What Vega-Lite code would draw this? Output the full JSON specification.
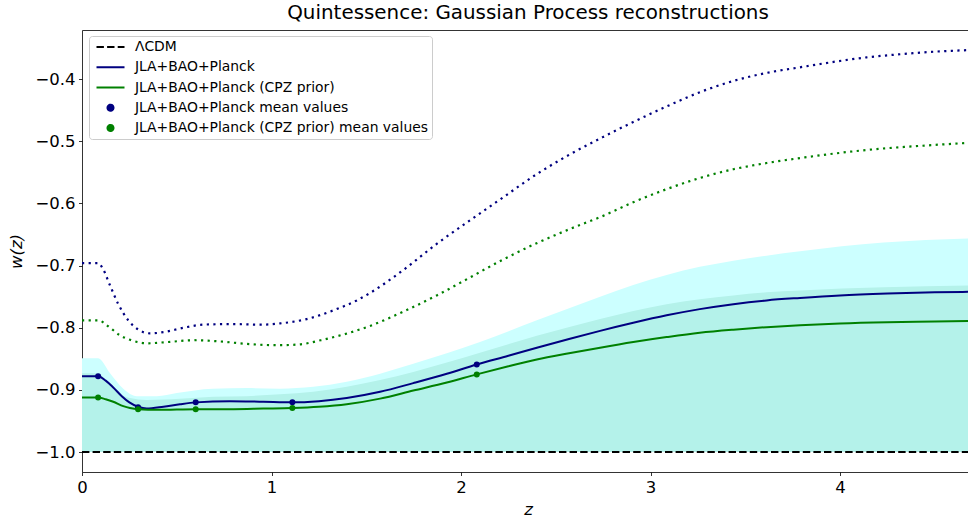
{
  "$schema": "https://vega.github.io/schema/vega-lite/v6.json",
  "width": 892,
  "height": 442,
  "autosize": {"type": "none"},
  "padding": {"left": 82, "top": 30, "right": 0, "bottom": 47},
  "background": "white",
  "title": {"text": "Quintessence: Gaussian Process reconstructions", "fontSize": 19.9, "font": "DejaVu Sans", "fontWeight": "normal", "color": "black", "anchor": "middle", "offset": 7},
  "config": {
    "font": "DejaVu Sans",
    "view": {"stroke": null},
    "axis": {"domainColor": "black", "domainWidth": 0.8, "tickColor": "black", "tickWidth": 0.8, "tickSize": 3.5, "labelPadding": 3.5, "labelFontSize": 16.5, "labelColor": "black", "labelFont": "DejaVu Sans", "labelFlush": false, "labelOverlap": false, "titleFont": "DejaVu Sans", "titleFontSize": 16.5, "titleFontStyle": "italic", "titleFontWeight": "normal", "titleColor": "black", "grid": false}
  },
  "datasets": {
    "bands": [
      {"b": "cyan", "z": 0, "w": -0.849}, {"b": "cyan", "z": 0.085, "w": -0.849}, {"b": "cyan", "z": 0.148, "w": -0.873}, {"b": "cyan", "z": 0.218, "w": -0.898}, {"b": "cyan", "z": 0.289, "w": -0.91}, {"b": "cyan", "z": 0.394, "w": -0.91}, {"b": "cyan", "z": 0.5, "w": -0.905}, {"b": "cyan", "z": 0.69, "w": -0.898}, {"b": "cyan", "z": 0.87, "w": -0.897}, {"b": "cyan", "z": 1.045, "w": -0.898}, {"b": "cyan", "z": 1.22, "w": -0.895}, {"b": "cyan", "z": 1.397, "w": -0.887}, {"b": "cyan", "z": 1.573, "w": -0.874}, {"b": "cyan", "z": 1.748, "w": -0.858}, {"b": "cyan", "z": 1.925, "w": -0.841}, {"b": "cyan", "z": 2.1, "w": -0.823}, {"b": "cyan", "z": 2.4, "w": -0.788}, {"b": "cyan", "z": 2.734, "w": -0.75}, {"b": "cyan", "z": 2.909, "w": -0.731}, {"b": "cyan", "z": 3.085, "w": -0.715}, {"b": "cyan", "z": 3.26, "w": -0.702}, {"b": "cyan", "z": 3.437, "w": -0.692}, {"b": "cyan", "z": 3.613, "w": -0.684}, {"b": "cyan", "z": 3.789, "w": -0.677}, {"b": "cyan", "z": 4.23, "w": -0.663}, {"b": "cyan", "z": 4.71, "w": -0.656},
      {"b": "teal", "z": 0, "w": -0.873}, {"b": "teal", "z": 0.085, "w": -0.873}, {"b": "teal", "z": 0.148, "w": -0.893}, {"b": "teal", "z": 0.2, "w": -0.906}, {"b": "teal", "z": 0.253, "w": -0.913}, {"b": "teal", "z": 0.341, "w": -0.916}, {"b": "teal", "z": 0.517, "w": -0.914}, {"b": "teal", "z": 0.693, "w": -0.911}, {"b": "teal", "z": 0.869, "w": -0.91}, {"b": "teal", "z": 1.045, "w": -0.907}, {"b": "teal", "z": 1.22, "w": -0.903}, {"b": "teal", "z": 1.397, "w": -0.895}, {"b": "teal", "z": 1.573, "w": -0.884}, {"b": "teal", "z": 1.748, "w": -0.871}, {"b": "teal", "z": 1.925, "w": -0.856}, {"b": "teal", "z": 2.1, "w": -0.84}, {"b": "teal", "z": 2.4, "w": -0.813}, {"b": "teal", "z": 2.734, "w": -0.786}, {"b": "teal", "z": 2.909, "w": -0.773}, {"b": "teal", "z": 3.085, "w": -0.762}, {"b": "teal", "z": 3.26, "w": -0.754}, {"b": "teal", "z": 3.437, "w": -0.748}, {"b": "teal", "z": 3.613, "w": -0.743}, {"b": "teal", "z": 3.789, "w": -0.74}, {"b": "teal", "z": 4.23, "w": -0.735}, {"b": "teal", "z": 4.71, "w": -0.732}
    ],
    "lcdm": [
      {"s": "ΛCDM", "z": 0, "w": -1}, {"s": "ΛCDM", "z": 4.71, "w": -1}
    ],
    "upper": [
      {"s": "blue", "z": 0, "w": -0.696}, {"s": "blue", "z": 0.085, "w": -0.696}, {"s": "blue", "z": 0.11, "w": -0.705}, {"s": "blue", "z": 0.148, "w": -0.732}, {"s": "blue", "z": 0.19, "w": -0.761}, {"s": "blue", "z": 0.244, "w": -0.788}, {"s": "blue", "z": 0.297, "w": -0.803}, {"s": "blue", "z": 0.359, "w": -0.809}, {"s": "blue", "z": 0.43, "w": -0.807}, {"s": "blue", "z": 0.535, "w": -0.8}, {"s": "blue", "z": 0.64, "w": -0.795}, {"s": "blue", "z": 0.78, "w": -0.794}, {"s": "blue", "z": 0.94, "w": -0.795}, {"s": "blue", "z": 1.045, "w": -0.793}, {"s": "blue", "z": 1.186, "w": -0.786}, {"s": "blue", "z": 1.326, "w": -0.772}, {"s": "blue", "z": 1.45, "w": -0.756}, {"s": "blue", "z": 1.52, "w": -0.744}, {"s": "blue", "z": 1.696, "w": -0.707}, {"s": "blue", "z": 1.872, "w": -0.665}, {"s": "blue", "z": 2.048, "w": -0.627}, {"s": "blue", "z": 2.223, "w": -0.59}, {"s": "blue", "z": 2.399, "w": -0.553}, {"s": "blue", "z": 2.575, "w": -0.521}, {"s": "blue", "z": 2.75, "w": -0.493}, {"s": "blue", "z": 2.909, "w": -0.469}, {"s": "blue", "z": 3.085, "w": -0.444}, {"s": "blue", "z": 3.261, "w": -0.421}, {"s": "blue", "z": 3.437, "w": -0.403}, {"s": "blue", "z": 3.613, "w": -0.39}, {"s": "blue", "z": 3.789, "w": -0.381}, {"s": "blue", "z": 4.141, "w": -0.365}, {"s": "blue", "z": 4.317, "w": -0.36}, {"s": "blue", "z": 4.493, "w": -0.356}, {"s": "blue", "z": 4.71, "w": -0.353},
      {"s": "green", "z": 0, "w": -0.788}, {"s": "green", "z": 0.085, "w": -0.788}, {"s": "green", "z": 0.148, "w": -0.8}, {"s": "green", "z": 0.2, "w": -0.812}, {"s": "green", "z": 0.26, "w": -0.82}, {"s": "green", "z": 0.34, "w": -0.825}, {"s": "green", "z": 0.45, "w": -0.823}, {"s": "green", "z": 0.59, "w": -0.82}, {"s": "green", "z": 0.73, "w": -0.822}, {"s": "green", "z": 0.87, "w": -0.826}, {"s": "green", "z": 1.03, "w": -0.828}, {"s": "green", "z": 1.14, "w": -0.827}, {"s": "green", "z": 1.26, "w": -0.82}, {"s": "green", "z": 1.4, "w": -0.809}, {"s": "green", "z": 1.52, "w": -0.797}, {"s": "green", "z": 1.696, "w": -0.774}, {"s": "green", "z": 1.872, "w": -0.748}, {"s": "green", "z": 2.048, "w": -0.719}, {"s": "green", "z": 2.223, "w": -0.69}, {"s": "green", "z": 2.399, "w": -0.664}, {"s": "green", "z": 2.575, "w": -0.641}, {"s": "green", "z": 2.75, "w": -0.62}, {"s": "green", "z": 2.909, "w": -0.598}, {"s": "green", "z": 3.085, "w": -0.577}, {"s": "green", "z": 3.261, "w": -0.559}, {"s": "green", "z": 3.437, "w": -0.545}, {"s": "green", "z": 3.613, "w": -0.535}, {"s": "green", "z": 3.789, "w": -0.527}, {"s": "green", "z": 4.141, "w": -0.514}, {"s": "green", "z": 4.493, "w": -0.506}, {"s": "green", "z": 4.71, "w": -0.502}
    ],
    "mean": [
      {"s": "JLA+BAO+Planck", "z": 0, "w": -0.878}, {"s": "JLA+BAO+Planck", "z": 0.085, "w": -0.878}, {"s": "JLA+BAO+Planck", "z": 0.125, "w": -0.885}, {"s": "JLA+BAO+Planck", "z": 0.165, "w": -0.896}, {"s": "JLA+BAO+Planck", "z": 0.21, "w": -0.91}, {"s": "JLA+BAO+Planck", "z": 0.25, "w": -0.92}, {"s": "JLA+BAO+Planck", "z": 0.296, "w": -0.927}, {"s": "JLA+BAO+Planck", "z": 0.341, "w": -0.93}, {"s": "JLA+BAO+Planck", "z": 0.43, "w": -0.927}, {"s": "JLA+BAO+Planck", "z": 0.517, "w": -0.923}, {"s": "JLA+BAO+Planck", "z": 0.6, "w": -0.92}, {"s": "JLA+BAO+Planck", "z": 0.78, "w": -0.918}, {"s": "JLA+BAO+Planck", "z": 0.957, "w": -0.919}, {"s": "JLA+BAO+Planck", "z": 1.11, "w": -0.92}, {"s": "JLA+BAO+Planck", "z": 1.25, "w": -0.918}, {"s": "JLA+BAO+Planck", "z": 1.397, "w": -0.913}, {"s": "JLA+BAO+Planck", "z": 1.573, "w": -0.903}, {"s": "JLA+BAO+Planck", "z": 1.748, "w": -0.889}, {"s": "JLA+BAO+Planck", "z": 1.925, "w": -0.874}, {"s": "JLA+BAO+Planck", "z": 2.083, "w": -0.859}, {"s": "JLA+BAO+Planck", "z": 2.25, "w": -0.845}, {"s": "JLA+BAO+Planck", "z": 2.4, "w": -0.832}, {"s": "JLA+BAO+Planck", "z": 2.57, "w": -0.818}, {"s": "JLA+BAO+Planck", "z": 2.734, "w": -0.805}, {"s": "JLA+BAO+Planck", "z": 2.909, "w": -0.792}, {"s": "JLA+BAO+Planck", "z": 3.085, "w": -0.78}, {"s": "JLA+BAO+Planck", "z": 3.26, "w": -0.77}, {"s": "JLA+BAO+Planck", "z": 3.437, "w": -0.762}, {"s": "JLA+BAO+Planck", "z": 3.613, "w": -0.756}, {"s": "JLA+BAO+Planck", "z": 3.789, "w": -0.752}, {"s": "JLA+BAO+Planck", "z": 4.0, "w": -0.748}, {"s": "JLA+BAO+Planck", "z": 4.25, "w": -0.745}, {"s": "JLA+BAO+Planck", "z": 4.5, "w": -0.743}, {"s": "JLA+BAO+Planck", "z": 4.71, "w": -0.742},
      {"s": "JLA+BAO+Planck (CPZ prior)", "z": 0, "w": -0.912}, {"s": "JLA+BAO+Planck (CPZ prior)", "z": 0.085, "w": -0.912}, {"s": "JLA+BAO+Planck (CPZ prior)", "z": 0.125, "w": -0.915}, {"s": "JLA+BAO+Planck (CPZ prior)", "z": 0.165, "w": -0.919}, {"s": "JLA+BAO+Planck (CPZ prior)", "z": 0.218, "w": -0.926}, {"s": "JLA+BAO+Planck (CPZ prior)", "z": 0.253, "w": -0.929}, {"s": "JLA+BAO+Planck (CPZ prior)", "z": 0.296, "w": -0.931}, {"s": "JLA+BAO+Planck (CPZ prior)", "z": 0.4, "w": -0.932}, {"s": "JLA+BAO+Planck (CPZ prior)", "z": 0.6, "w": -0.931}, {"s": "JLA+BAO+Planck (CPZ prior)", "z": 0.8, "w": -0.931}, {"s": "JLA+BAO+Planck (CPZ prior)", "z": 0.957, "w": -0.93}, {"s": "JLA+BAO+Planck (CPZ prior)", "z": 1.11, "w": -0.929}, {"s": "JLA+BAO+Planck (CPZ prior)", "z": 1.25, "w": -0.927}, {"s": "JLA+BAO+Planck (CPZ prior)", "z": 1.397, "w": -0.923}, {"s": "JLA+BAO+Planck (CPZ prior)", "z": 1.573, "w": -0.914}, {"s": "JLA+BAO+Planck (CPZ prior)", "z": 1.748, "w": -0.901}, {"s": "JLA+BAO+Planck (CPZ prior)", "z": 1.925, "w": -0.888}, {"s": "JLA+BAO+Planck (CPZ prior)", "z": 2.083, "w": -0.875}, {"s": "JLA+BAO+Planck (CPZ prior)", "z": 2.25, "w": -0.862}, {"s": "JLA+BAO+Planck (CPZ prior)", "z": 2.4, "w": -0.851}, {"s": "JLA+BAO+Planck (CPZ prior)", "z": 2.57, "w": -0.841}, {"s": "JLA+BAO+Planck (CPZ prior)", "z": 2.734, "w": -0.832}, {"s": "JLA+BAO+Planck (CPZ prior)", "z": 2.909, "w": -0.823}, {"s": "JLA+BAO+Planck (CPZ prior)", "z": 3.085, "w": -0.815}, {"s": "JLA+BAO+Planck (CPZ prior)", "z": 3.26, "w": -0.808}, {"s": "JLA+BAO+Planck (CPZ prior)", "z": 3.437, "w": -0.803}, {"s": "JLA+BAO+Planck (CPZ prior)", "z": 3.613, "w": -0.799}, {"s": "JLA+BAO+Planck (CPZ prior)", "z": 3.789, "w": -0.796}, {"s": "JLA+BAO+Planck (CPZ prior)", "z": 4.0, "w": -0.793}, {"s": "JLA+BAO+Planck (CPZ prior)", "z": 4.25, "w": -0.791}, {"s": "JLA+BAO+Planck (CPZ prior)", "z": 4.5, "w": -0.79}, {"s": "JLA+BAO+Planck (CPZ prior)", "z": 4.71, "w": -0.789}
    ],
    "pts": [
      {"s": "JLA+BAO+Planck mean values", "z": 0.085, "w": -0.878}, {"s": "JLA+BAO+Planck mean values", "z": 0.296, "w": -0.928}, {"s": "JLA+BAO+Planck mean values", "z": 0.6, "w": -0.92}, {"s": "JLA+BAO+Planck mean values", "z": 1.11, "w": -0.92}, {"s": "JLA+BAO+Planck mean values", "z": 2.083, "w": -0.859},
      {"s": "JLA+BAO+Planck (CPZ prior) mean values", "z": 0.085, "w": -0.912}, {"s": "JLA+BAO+Planck (CPZ prior) mean values", "z": 0.296, "w": -0.931}, {"s": "JLA+BAO+Planck (CPZ prior) mean values", "z": 0.6, "w": -0.931}, {"s": "JLA+BAO+Planck (CPZ prior) mean values", "z": 1.11, "w": -0.929}, {"s": "JLA+BAO+Planck (CPZ prior) mean values", "z": 2.083, "w": -0.875}
    ]
  },
  "encoding": {
    "y": {"field": "w", "type": "quantitative", "scale": {"domain": [-1.032, -0.321], "nice": false, "zero": false}, "axis": {"values": [-1, -0.9, -0.8, -0.7, -0.6, -0.5, -0.4], "format": ".1f", "title": "w(z)", "titlePadding": 10}}
  },
  "layer": [
    {
      "data": {"name": "bands"},
      "transform": [{"filter": "datum.b === 'cyan'"}],
      "mark": {"type": "area", "color": "#ccffff", "opacity": 1, "interpolate": "monotone"},
      "encoding": {
        "x": {"field": "z", "type": "quantitative", "scale": {"domain": [0, 4.707], "nice": false, "zero": false}, "axis": {"values": [0, 1, 2, 3, 4], "format": "d", "title": "z", "titlePadding": 6, "labelFlush": false}},
        "y2": {"datum": -1}
      }
    },
    {
      "data": {"name": "bands"},
      "transform": [{"filter": "datum.b === 'teal'"}],
      "mark": {"type": "area", "color": "#b4f2ea", "opacity": 1, "interpolate": "monotone"},
      "encoding": {
        "x": {"field": "z", "type": "quantitative", "scale": {"domain": [0, 4.707], "nice": false, "zero": false}, "axis": null},
        "y2": {"datum": -1}
      }
    },
    {
      "data": {"name": "lcdm"},
      "mark": {"type": "line", "strokeWidth": 2, "strokeDash": [7.4, 3.2]},
      "encoding": {
        "x": {"field": "z", "type": "quantitative", "scale": {"domain": [0, 4.707], "nice": false, "zero": false}, "axis": {"orient": "top", "labels": false, "ticks": false, "title": null, "domainColor": "black", "domainWidth": 0.8}},
        "color": {"field": "s", "type": "nominal",
          "scale": {"domain": ["ΛCDM", "JLA+BAO+Planck", "JLA+BAO+Planck (CPZ prior)", "JLA+BAO+Planck mean values", "JLA+BAO+Planck (CPZ prior) mean values"], "range": ["black", "#000080", "#008000", "#000080", "#008000"]},
          "legend": {"orient": "none", "legendX": 7, "legendY": 6, "title": null, "fillColor": "rgba(255,255,255,0.8)", "strokeColor": "#cccccc", "cornerRadius": 3, "padding": 3, "labelFont": "DejaVu Sans", "labelFontSize": 13.9, "labelColor": "black", "labelLimit": 0, "symbolType": "stroke", "symbolSize": 784, "symbolStrokeWidth": 2, "clipHeight": 16, "rowPadding": 4.25, "symbolOffset": 3.5, "labelOffset": 9.4,
            "encode": {"symbols": {"update": {
              "shape": {"signal": "datum.index >= 3 ? 'circle' : 'stroke'"},
              "size": {"signal": "datum.index >= 3 ? 36 : 784"},
              "fill": {"signal": "datum.index == 3 ? '#000080' : datum.index == 4 ? '#008000' : 'transparent'"},
              "stroke": {"signal": "datum.index == 0 ? 'black' : datum.index == 1 ? '#000080' : datum.index == 2 ? '#008000' : 'transparent'"},
              "strokeWidth": {"value": 2},
              "strokeDash": {"signal": "datum.index == 0 ? [7.4, 3.2] : [1, 0]"},
              "opacity": {"value": 1}
            }}}}
        }
      }
    },
    {
      "data": {"name": "upper"},
      "mark": {"type": "line", "strokeWidth": 2.2, "strokeDash": [2.2, 4.4], "interpolate": "monotone"},
      "encoding": {
        "x": {"field": "z", "type": "quantitative", "scale": {"domain": [0, 4.707], "nice": false, "zero": false}, "axis": null},
        "stroke": {"field": "s", "type": "nominal", "scale": {"domain": ["blue", "green"], "range": ["#000080", "#008000"]}, "legend": null}
      }
    },
    {
      "data": {"name": "mean"},
      "mark": {"type": "line", "strokeWidth": 2, "interpolate": "monotone"},
      "encoding": {
        "x": {"field": "z", "type": "quantitative", "scale": {"domain": [0, 4.707], "nice": false, "zero": false}, "axis": null},
        "color": {"field": "s", "type": "nominal",
          "scale": {"domain": ["ΛCDM", "JLA+BAO+Planck", "JLA+BAO+Planck (CPZ prior)", "JLA+BAO+Planck mean values", "JLA+BAO+Planck (CPZ prior) mean values"], "range": ["black", "#000080", "#008000", "#000080", "#008000"]}}
      }
    },
    {
      "data": {"name": "pts"},
      "mark": {"type": "point", "filled": true, "shape": "circle", "size": 36, "opacity": 1},
      "encoding": {
        "x": {"field": "z", "type": "quantitative", "scale": {"domain": [0, 4.707], "nice": false, "zero": false}, "axis": null},
        "color": {"field": "s", "type": "nominal",
          "scale": {"domain": ["ΛCDM", "JLA+BAO+Planck", "JLA+BAO+Planck (CPZ prior)", "JLA+BAO+Planck mean values", "JLA+BAO+Planck (CPZ prior) mean values"], "range": ["black", "#000080", "#008000", "#000080", "#008000"]}}
      }
    }
  ],
  "resolve": {"axis": {"x": "independent"}}
}
